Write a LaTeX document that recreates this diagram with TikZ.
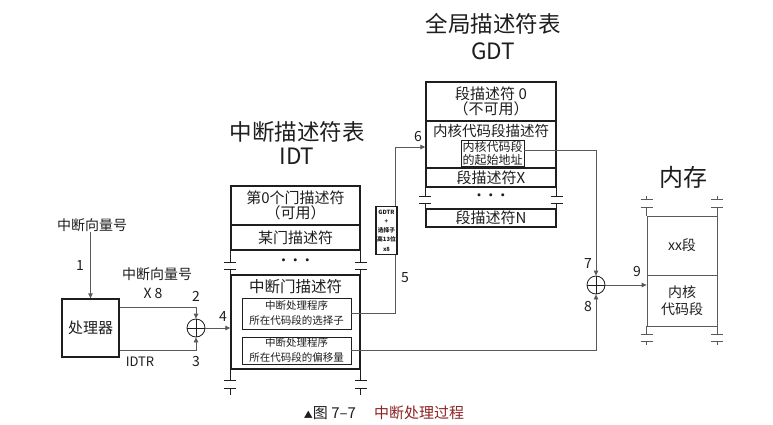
\documentclass[tikz,border=0pt]{standalone}
\usepackage{fontspec}
\setmainfont{Noto Sans CJK SC}
\usetikzlibrary{arrows.meta,calc}
\definecolor{capred}{RGB}{140,35,35}
\definecolor{ink}{RGB}{30,30,30}
\definecolor{wire}{RGB}{90,90,90}
\begin{document}
\begin{tikzpicture}[x=1pt,y=-1pt,
  every node/.style={text=ink, inner sep=0pt},
  tbl/.style={draw=ink, line width=1.4pt, rectangle, align=center, font=\fontsize{15}{15.5}\selectfont},
  inbox/.style={draw=ink, line width=0.8pt, rectangle, align=center, font=\fontsize{10.5}{15}\selectfont},
  memrow/.style={draw=wire, line width=0.8pt, rectangle, align=center, font=\fontsize{14}{17}\selectfont},
  brk/.style={draw=ink, line width=0.9pt},
  mbrk/.style={draw=wire, line width=0.8pt},
  conn/.style={draw=wire, line width=0.8pt},
  arr/.style={conn, -{Triangle[length=5pt,width=4.5pt]}},
  adder/.style={circle, draw=ink, line width=0.8pt, minimum size=18pt,
    path picture={\draw[ink,line width=0.8pt] (path picture bounding box.north) -- (path picture bounding box.south)
      (path picture bounding box.west) -- (path picture bounding box.east);}},
  lbl/.style={font=\fontsize{14}{16}\selectfont},
  title/.style={align=center, font=\fontsize{22.5}{24}\selectfont},
  dots/.style={font=\fontsize{11}{11}\selectfont\bfseries}
]
\useasboundingbox[fill=white] (0,0) rectangle (773,425);

% ---------- processor ----------
\node[draw=ink, line width=1.3pt, minimum width=57pt, minimum height=58pt, font=\fontsize{15}{15}\selectfont] (proc) at (90.5,328) {处理器};
\node[lbl] (vec) at (92,225) {中断向量号};
\node[lbl] (l1) at (80,266) {1};
\node[lbl] (vec8) at (157,274) {中断向量号};
\node[lbl] (x8) at (153,293) {X 8};
\node[font=\fontsize{13}{15}\selectfont] (idtr) at (140,362) {IDTR};
\node[lbl] (l2) at (196,296) {2};
\node[lbl] (l3) at (196,362) {3};
\node[lbl] (l4) at (223,317) {4};
\node[adder] (add1) at (196,328) {};

% ---------- IDT ----------
\node[title] (idtt) at (297,143) {中断描述符表\\IDT};
\node[tbl, minimum width=129pt, minimum height=39pt] (idt0) at (295.5,205.5) {第0个门描述符\\（可用）};
\node[tbl, minimum width=129pt, minimum height=25pt] (idt1) at (295.5,237.5) {某门描述符};
\node[dots] (idtd) at (295.5,262) {·\hspace{1pt}·\hspace{1pt}·};
\node[tbl, minimum width=129pt, minimum height=94pt] (idtg) at (295.5,322) {};
\node[font=\fontsize{15.5}{16}\selectfont] (idtgt) at (295.5,287) {中断门描述符};
\node[inbox, minimum width=109pt, minimum height=31pt] (sel) at (296.5,313.5) {中断处理程序\\所在代码段的选择子};
\node[inbox, minimum width=109pt, minimum height=27pt] (off) at (296.5,350.5) {中断处理程序\\所在代码段的偏移量};
\foreach \a in {west,east}{
  \draw[brk] (idt1.south \a) -- ++(0,12) ++(-6,0) -- ++(12,0) ++(-12,7) -- ++(12,0) ++(-6,0) -- (idtg.north \a);
  \draw[brk] (idtg.south \a) -- ++(0,11) ++(-6,0) -- ++(12,0) ++(-12,8) -- ++(12,0) ++(-6,0) -- ++(0,6);
}

% ---------- GDTR box ----------
\node[draw=ink, line width=1.1pt, minimum width=21pt, minimum height=48pt, align=center,
  font=\fontsize{5.8}{9.2}\selectfont\bfseries] (gdtr) at (386.5,230.5) {GDTR\\+\\选择子\\高13位\\x8};
\node[lbl] (l5) at (405,278) {5};
\node[lbl] (l6) at (418,137) {6};

% ---------- GDT ----------
\node[title, font=\fontsize{22.5}{27}\selectfont] (gdtt) at (493,36.5) {全局描述符表\\GDT};
\node[tbl, minimum width=130pt, minimum height=39pt] (g0) at (491,101.5) {段描述符 0\\（不可用）};
\node[tbl, minimum width=130pt, minimum height=47pt] (g1) at (491,144.5) {};
\node[font=\fontsize{14.5}{15}\selectfont] (g1t) at (491,131) {内核代码段描述符};
\node[inbox, font=\fontsize{12}{13}\selectfont, minimum width=63pt, minimum height=26pt] (gin) at (492.5,153.5) {内核代码段\\的起始地址};
\node[tbl, minimum width=130pt, minimum height=19pt] (gx) at (491,177.5) {段描述符X};
\node[dots] (gd) at (491,197) {·\hspace{1pt}·\hspace{1pt}·};
\node[tbl, minimum width=130pt, minimum height=18pt] (gn) at (491,218) {段描述符N};
\foreach \a in {west,east}{
  \draw[brk] (gx.south \a) -- ++(0,9) ++(-6,0) -- ++(12,0) ++(-12,7) -- ++(12,0) ++(-6,0) -- (gn.north \a);
}

% ---------- memory ----------
\node[title, font=\fontsize{24}{26}\selectfont] (memt) at (683,177) {内存};
\node[memrow, minimum width=70pt, minimum height=59pt] (mxx) at (682,245.5) {xx段};
\node[memrow, minimum width=70pt, minimum height=51pt] (mk) at (682,300.5) {内核\\代码段};
\foreach \a in {west,east}{
  \draw[mbrk] (mxx.north \a) -- ++(0,-8) ++(-6,0) -- ++(12,0) ++(-12,-8) -- ++(12,0) ++(-6,0) -- ++(0,-4);
  \draw[mbrk] (mk.south \a) -- ++(0,8) ++(-6,0) -- ++(12,0) ++(-12,7) -- ++(12,0) ++(-6,0) -- ++(0,4);
}
\node[adder] (add2) at (596,285) {};
\node[lbl] (l7) at (588,264) {7};
\node[lbl] (l8) at (588,307) {8};
\node[lbl] (l9) at (637,272) {9};

% ---------- connectors ----------
\draw[arr] (vec.south -| proc.north) -- (proc.north);
\draw[arr] ($(proc.east)+(0,-21)$) -| (add1.north);
\draw[arr] ($(proc.east)+(0,22)$) -| (add1.south);
\draw[arr] (add1.east) -- (add1.east -| idtg.west);
\draw[conn] (sel.east) -| ($(gdtr.south east)+(-2,0)$);
\draw[arr] ($(gdtr.north east)+(-2,0)$) |- ($(g1.west)+(0,2.5)$);
\draw[arr] ($(gin.east)+(0,-3.5)$) -| (add2.north);
\draw[arr] (off.east) -| (add2.south);
\draw[arr] (add2.east) -- (add2.east -| mk.west);

% ---------- caption ----------
\node[font=\fontsize{15}{16}\selectfont] (cap) at (384,413) {{\fontsize{9}{9}\selectfont ▲}图 7–7\hspace{18pt}\textcolor{capred}{中断处理过程}};
\end{tikzpicture}
\end{document}
